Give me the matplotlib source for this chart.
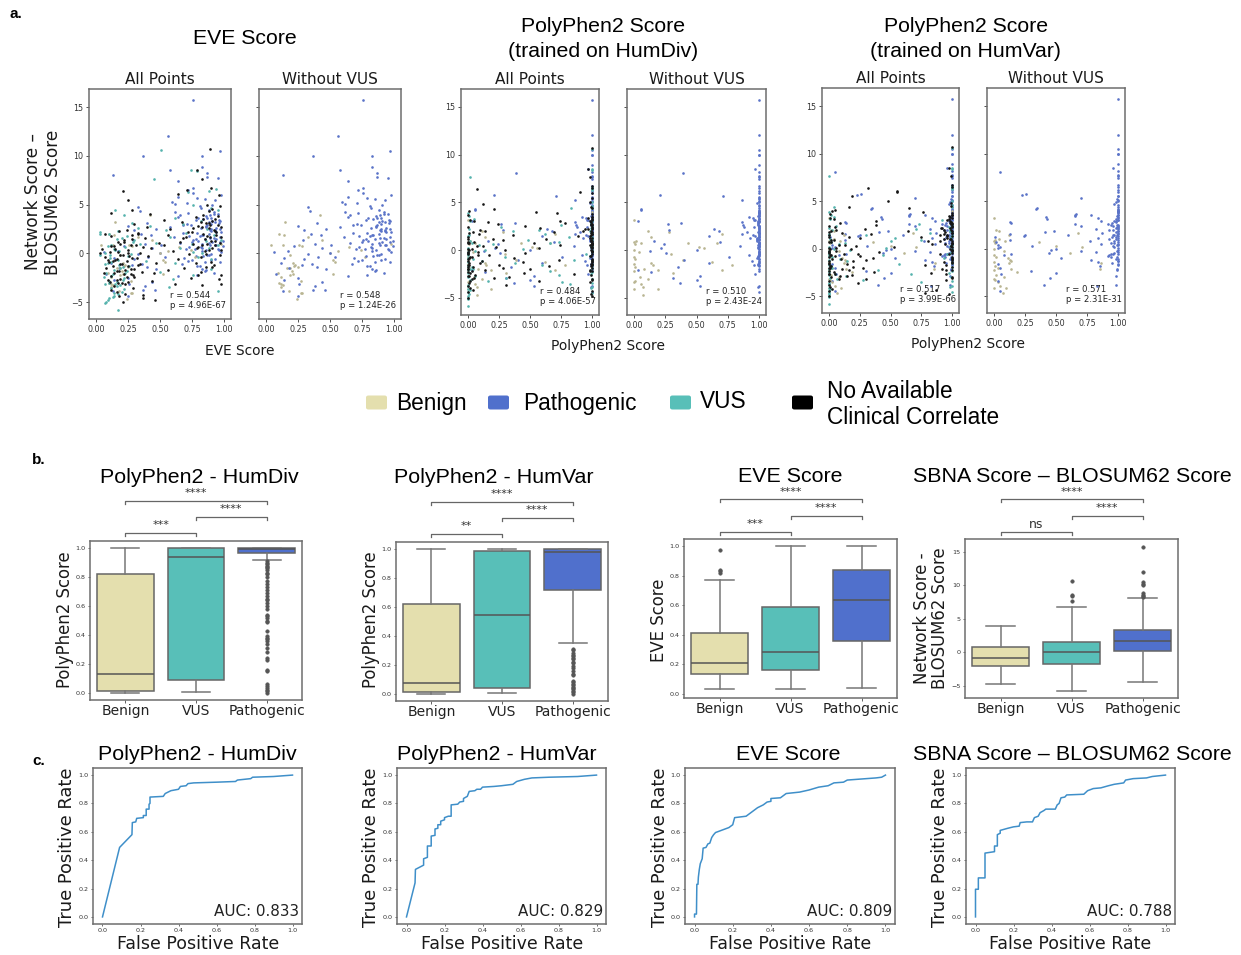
import matplotlib
matplotlib.use('Agg')
import matplotlib.pyplot as plt
from matplotlib.patches import FancyBboxPatch

W, H = 1241, 955

# scatter values, one row of values per line, same order in all columns
path_y = [15.75, 12.0, 10.5, 10.0, 10.0, 8.9, 8.5, 8.2, 8.05, 7.8,
          7.7, 7.4, 6.7, 6.5, 6.0, 5.8, 5.7, 5.5, 5.3, 5.2,
          5.1, 5.0, 4.9, 4.7, 4.4, 4.3, 4.2, 4.1, 4.0, 3.9,
          3.8, 3.7, 3.6, 3.5, 3.4, 3.3, 3.2, 3.1, 3.0, 2.9,
          2.8, 2.7, 2.6, 2.5, 2.4, 2.3, 2.2, 2.1, 2.0, 1.9,
          1.8, 1.7, 1.6, 1.5, 1.4, 1.3, 1.2, 1.1, 1.0, 0.9,
          0.8, 0.7, 0.6, 0.5, 0.4, 0.3, 0.2, 0.1, 0.0, -0.1,
          -0.2, -0.3, -0.4, -0.5, -0.6, -0.7, -0.8, -0.9, -1.0, -1.1,
          -1.2, -1.3, -1.4, -1.5, -1.6, -1.8, -2.0, -2.1, -2.3, -2.5,
          -2.7, -2.9, -3.1, -3.4, -3.8, -3.8, -3.9, -4.4, 2.4, 2.6,
          3.2, 2.9, 2.3, 1.9, 1.5, 1.2, 0.7, 0.3, -0.3, -0.7,
          4.6, 4.0, 3.4, 2.8, 2.1, 1.6, 1.0, 0.4, -1.1, -1.6,
          2.5, 2.0, 1.4, 0.9, 0.2, -0.5, 3.0, 3.6, 5.6, 6.2,
          3.3, 2.7, 2.2, 1.8, 1.3, 0.8, 0.4, -0.2, -0.6, -1.3,
          4.2, 3.6, 3.1, 2.5, 1.9, 1.5, 1.1, 0.6, 0.1, -0.9,
          2.9, 2.4, 1.7, 1.2, 0.5, -0.1, -0.4, -1.7, -2.2, 3.9]
path_eve = [0.76, 0.56, 0.97, 0.83, 0.37, 0.83, 0.58, 0.87, 0.13, 0.87,
            0.95, 0.64, 0.76, 0.72, 0.98, 0.64, 0.79, 0.93, 0.59, 0.71,
            0.62, 0.91, 0.81, 0.33, 0.88, 0.34, 0.62, 0.72, 0.95, 0.66,
            0.86, 0.64, 0.90, 0.84, 0.78, 0.97, 0.93, 0.40, 0.71, 0.87,
            0.25, 0.58, 0.82, 0.47, 0.30, 0.90, 0.98, 0.68, 0.35, 0.43,
            0.73, 0.61, 0.92, 0.85, 0.29, 0.80, 0.97, 0.66, 0.38, 0.94,
            0.51, 0.22, 0.82, 0.44, 0.70, 0.96, 0.17, 0.06, 0.50, 0.33,
            0.88, 0.78, 0.41, 0.14, 0.30, 0.90, 0.72, 0.97, 0.12, 0.36,
            0.28, 0.81, 0.40, 0.18, 0.47, 0.85, 0.92, 0.08, 0.64, 0.25,
            0.14, 0.44, 0.26, 0.38, 0.37, 0.46, 0.13, 0.25, 0.89, 0.94,
            0.88, 0.74, 0.93, 0.83, 0.78, 0.91, 0.99, 0.86, 0.84, 0.75,
            0.82, 0.92, 0.96, 0.86, 0.79, 0.89, 0.83, 0.95, 0.67, 0.83,
            0.97, 0.88, 0.76, 0.93, 0.83, 0.69, 0.90, 0.80, 0.85, 0.76,
            0.91, 0.86, 0.94, 0.81, 0.99, 0.89, 0.77, 0.87, 0.93, 0.79,
            0.92, 0.87, 0.96, 0.90, 0.84, 0.94, 0.88, 0.73, 0.98, 0.85,
            0.68, 0.93, 0.97, 0.75, 0.83, 0.90, 0.54, 0.86, 0.79, 0.89]
path_div = [1.0, 1.0, 1.0, 1.0, 1.0, 1.0, 0.97, 1.0, 0.39, 1.0,
            1.0, 1.0, 1.0, 1.0, 1.0, 0.21, 0.71, 1.0, 1.0, 0.86,
            1.0, 1.0, 0.98, 1.0, 1.0, 0.06, 0.06, 1.0, 1.0, 1.0,
            1.0, 1.0, 0.99, 0.92, 0.95, 1.0, 0.97, 0.03, 1.0, 0.86,
            0.38, 0.27, 0.99, 1.0, 0.88, 1.0, 0.64, 0.28, 0.68, 0.90,
            1.0, 0.86, 0.95, 0.60, 1.0, 0.93, 0.98, 1.0, 0.16, 0.69,
            1.0, 1.0, 0.24, 1.0, 0.85, 0.99, 0.22, 1.0, 0.50, 0.13,
            1.0, 0.26, 1.0, 0.92, 1.0, 0.76, 0.98, 1.0, 0.40, 0.94,
            1.0, 0.60, 0.99, 0.96, 1.0, 0.35, 1.0, 0.03, 0.14, 0.97,
            0.53, 0.31, 0.50, 0.37, 1.0, 0.53, 0.99, 1.0, 0.96, 0.87,
            0.96, 1.0, 1.0, 0.99, 0.97, 1.0, 1.0, 1.0, 1.0, 0.99,
            1.0, 1.0, 1.0, 0.99, 1.0, 1.0, 0.98, 1.0, 1.0, 0.99,
            1.0, 1.0, 1.0, 1.0, 0.99, 1.0, 1.0, 1.0, 1.0, 1.0,
            1.0, 0.99, 1.0, 1.0, 0.98, 1.0, 1.0, 1.0, 0.99, 1.0,
            1.0, 1.0, 0.99, 1.0, 1.0, 1.0, 0.98, 1.0, 1.0, 1.0,
            0.99, 1.0, 1.0, 1.0, 0.99, 1.0, 1.0, 1.0, 1.0, 1.0]
path_var = [1.0, 1.0, 1.0, 1.0, 1.0, 1.0, 0.96, 1.0, 0.05, 1.0,
            1.0, 1.0, 1.0, 1.0, 1.0, 0.26, 0.23, 1.0, 0.70, 0.99,
            1.0, 1.0, 0.98, 0.97, 1.0, 0.35, 0.34, 1.0, 1.0, 1.0,
            1.0, 0.66, 0.65, 0.78, 0.65, 0.42, 0.84, 0.43, 1.0, 0.86,
            0.13, 0.14, 0.65, 0.94, 0.70, 1.0, 0.98, 0.82, 0.93, 0.48,
            0.41, 0.87, 0.13, 0.60, 0.25, 0.24, 0.01, 0.84, 0.93, 0.13,
            0.77, 0.02, 0.94, 0.86, 0.03, 0.31, 0.05, 0.03, 0.50, 0.46,
            0.70, 0.82, 0.44, 0.96, 0.14, 0.08, 0.92, 0.94, 0.54, 0.98,
            0.78, 1.0, 0.84, 0.95, 0.03, 0.85, 0.05, 0.99, 0.30, 0.50,
            0.06, 0.98, 0.45, 0.03, 0.98, 0.40, 0.83, 0.05, 0.96, 0.92,
            1.0, 0.97, 0.99, 1.0, 0.97, 0.98, 1.0, 0.96, 1.0, 0.93,
            1.0, 1.0, 0.99, 0.98, 1.0, 1.0, 0.98, 0.99, 1.0, 1.0,
            1.0, 0.96, 0.99, 1.0, 0.97, 1.0, 1.0, 1.0, 1.0, 1.0,
            1.0, 0.95, 1.0, 0.98, 1.0, 0.97, 1.0, 0.99, 0.94, 1.0,
            1.0, 1.0, 0.98, 0.99, 1.0, 0.96, 1.0, 0.97, 1.0, 0.99,
            0.98, 1.0, 1.0, 0.95, 1.0, 1.0, 0.97, 1.0, 0.99, 1.0]

benign_y = [3.2, 3.95, 2.0, 1.9, 1.7, 1.4, 1.0, 0.9, 0.8, 0.8,
            0.7, 0.6, 0.3, 0.2, 0.0, -0.2, -0.4, -0.7, -0.9, -1.0,
            -1.2, -1.3, -1.4, -1.5, -1.5, -1.8, -2.0, -2.1, -2.1, -2.2,
            -2.4, -2.8, -3.0, -3.2, -3.3, -3.5, -3.9, -4.1, -4.1, -4.7]
benign_eve = [0.15, 0.42, 0.10, 0.14, 0.33, 0.44, 0.98, 0.04, 0.13, 0.26,
              0.28, 0.65, 0.74, 0.56, 0.50, 0.19, 0.77, 0.52, 0.54, 0.21,
              0.23, 0.22, 0.25, 0.16, 0.19, 0.20, 0.09, 0.21, 0.52, 0.19,
              0.12, 0.27, 0.10, 0.12, 0.13, 0.12, 0.18, 0.28, 0.27, 0.24]
benign_div = [0.0, 1.0, 0.11, 0.28, 0.70, 0.14, 0.02, 0.0, 0.43, 0.06,
              0.66, 0.01, 0.52, 0.56, 0.0, 0.04, 0.30, 0.0, 0.01, 0.39,
              0.62, 0.14, 0.0, 0.15, 0.78, 0.01, 0.08, 0.70, 0.19, 0.0,
              0.31, 0.05, 0.11, 0.01, 0.0, 0.06, 0.07, 0.19, 0.0, 0.07]
benign_var = [0.0, 1.0, 0.02, 0.04, 0.68, 0.12, 0.04, 0.01, 0.0, 0.09,
              0.36, 0.01, 0.50, 0.71, 0.0, 0.08, 0.61, 0.0, 0.02, 0.11,
              0.13, 0.14, 0.0, 0.86, 0.12, 0.01, 0.03, 0.85, 0.14, 0.0,
              0.19, 0.02, 0.08, 0.0, 0.01, 0.03, 0.05, 0.10, 0.0, 0.07]

vus_y = [10.6, 8.5, 8.4, 7.6, 6.6, 6.4, 6.3, 5.0, 4.6, 4.4,
         4.4, 3.9, 3.6, 3.3, 3.0, 2.8, 2.6, 2.4, 2.2, 2.1,
         2.0, 2.0, 1.8, 1.7, 1.5, 1.4, 1.3, 1.1, 1.0, 0.9,
         0.8, 0.6, 0.5, 0.4, 0.2, 0.1, 0.0, -0.1, -0.2, -0.4,
         -0.5, -0.7, -0.8, -1.0, -1.1, -1.3, -1.4, -1.6, -1.7, -1.9,
         -2.0, -2.2, -2.3, -2.4, -2.6, -2.7, -2.9, -3.0, -3.2, -3.3,
         -3.5, -3.7, -3.9, -4.1, -4.2, -4.5, -4.8, -5.0, -5.1, -5.85,
         1.6, 1.2, 0.7, 0.3, -0.3, -0.9, -1.5, -2.1, -2.5, -3.1,
         2.5, 1.9, 1.0, 0.0, -0.6, -1.2, -1.8, -2.8, -3.4, -4.4,
         3.1, 2.3, 1.4, 0.5, -0.2, -1.0, -2.0, -3.6, -4.0, -4.6]
vus_eve = [0.51, 0.74, 0.79, 0.45, 0.94, 0.88, 0.72, 0.76, 0.90, 0.15,
           0.95, 0.22, 0.62, 0.82, 0.68, 0.42, 0.33, 0.55, 0.03, 0.70,
           0.03, 0.10, 0.24, 0.58, 0.16, 0.30, 0.86, 0.47, 0.34, 0.95,
           0.12, 0.23, 0.66, 0.14, 0.18, 0.76, 0.07, 0.27, 0.03, 0.80,
           0.11, 0.17, 0.39, 0.62, 0.07, 0.26, 0.21, 0.90, 0.14, 0.50,
           0.08, 0.76, 0.12, 0.06, 0.60, 0.21, 0.16, 0.10, 0.15, 0.19,
           0.57, 0.22, 0.95, 0.14, 0.17, 0.13, 0.09, 0.08, 0.07, 0.17,
           0.20, 0.29, 0.09, 0.15, 0.25, 0.12, 0.19, 0.13, 0.22, 0.07,
           0.87, 0.92, 0.75, 0.83, 0.90, 0.18, 0.24, 0.10, 0.16, 0.14,
           0.28, 0.17, 0.98, 0.88, 0.11, 0.09, 0.23, 0.12, 0.20, 0.10]
vus_div = [1.0, 1.0, 1.0, 0.02, 1.0, 1.0, 1.0, 1.0, 1.0, 0.83,
           1.0, 0.0, 0.01, 0.05, 1.0, 0.99, 0.75, 0.27, 0.01, 0.57,
           0.98, 0.36, 1.0, 0.62, 0.0, 0.81, 1.0, 0.48, 0.02, 0.73,
           0.66, 0.20, 0.09, 1.0, 0.0, 0.44, 0.14, 0.06, 1.0, 0.95,
           0.0, 0.30, 0.0, 0.85, 0.11, 0.38, 1.0, 0.60, 0.0, 1.0,
           0.04, 0.66, 1.0, 0.0, 0.73, 0.06, 0.31, 1.0, 0.16, 0.76,
           0.82, 0.0, 1.0, 0.0, 0.02, 1.0, 0.0, 0.0, 0.0, 0.0,
           0.01, 1.0, 0.03, 0.99, 0.0, 0.04, 1.0, 0.0, 0.99, 0.02,
           1.0, 0.99, 1.0, 1.0, 0.98, 0.0, 0.03, 0.0, 1.0, 0.0,
           0.02, 0.99, 1.0, 1.0, 0.0, 1.0, 0.02, 0.0, 0.99, 0.01]
vus_var = [1.0, 1.0, 1.0, 0.0, 1.0, 1.0, 1.0, 1.0, 1.0, 0.04,
           1.0, 0.0, 0.02, 0.04, 0.92, 0.99, 0.73, 0.06, 0.0, 0.71,
           0.98, 0.03, 1.0, 0.82, 0.0, 0.30, 1.0, 0.54, 0.01, 0.75,
           0.50, 0.13, 0.08, 1.0, 0.0, 0.46, 0.04, 0.17, 1.0, 0.98,
           0.0, 0.44, 0.0, 0.93, 0.09, 0.15, 1.0, 0.57, 0.0, 1.0,
           0.03, 0.40, 1.0, 0.0, 0.67, 0.05, 0.14, 0.99, 0.07, 0.28,
           0.75, 0.0, 1.0, 0.0, 0.01, 1.0, 0.0, 0.0, 0.0, 0.0,
           0.0, 0.99, 0.02, 0.98, 0.0, 0.03, 1.0, 0.0, 0.97, 0.01,
           1.0, 0.98, 0.99, 1.0, 0.96, 0.0, 0.02, 0.0, 1.0, 0.0,
           0.01, 0.97, 1.0, 1.0, 0.0, 1.0, 0.01, 0.0, 0.98, 0.0]

none_y = [10.7, 8.5, 7.6, 6.7, 6.5, 6.35, 6.1, 6.0, 5.5, 5.0,
          4.8, 4.4, 4.3, 4.1, 4.0, 3.9, 3.7, 3.5, 3.4, 3.3,
          3.2, 3.1, 3.0, 2.9, 2.8, 2.7, 2.7, 2.6, 2.5, 2.4,
          2.3, 2.3, 2.2, 2.1, 2.0, 2.0, 1.9, 1.9, 1.8, 1.7,
          1.7, 1.6, 1.5, 1.4, 1.3, 1.2, 1.2, 1.1, 1.0, 0.9,
          0.8, 0.8, 0.7, 0.6, 0.5, 0.4, 0.3, 0.3, 0.2, 0.1,
          0.0, 0.0, -0.1, -0.2, -0.3, -0.4, -0.5, -0.6, -0.7, -0.8,
          -0.9, -1.0, -1.0, -1.1, -1.2, -1.3, -1.4, -1.5, -1.6, -1.7,
          -1.8, -1.9, -2.0, -2.0, -2.1, -2.2, -2.3, -2.4, -2.5, -2.6,
          -2.7, -2.8, -2.9, -3.0, -3.1, -3.2, -3.3, -3.4, -3.6, -3.8,
          -4.0, -4.2, -4.3, -4.4, -4.6, -4.8, -5.0, 1.0, 2.2, 3.2,
          0.5, 1.6, -0.4, -1.5, 2.6, 0.2, -2.2, -1.2, 1.9, -0.1,
          1.2, 0.7, 0.1, -0.3, -0.7, -1.1, -1.6, -2.0, -2.4, -2.9,
          0.9, 0.4, -0.2, -0.8, -1.3, -1.8, -2.2, -2.7, -3.2, -0.5,
          2.0, 1.5, 1.0, 0.6, 0.0, -0.6, -1.1, -1.7, -2.1, -3.0,
          3.5, 2.9, 2.4, 1.8, 1.3, 0.8, 0.3, -0.2, -1.4, -0.9,
          4.5, 3.8, 3.1, 2.7, 2.2, 1.7, 1.1, 0.5, -1.9, -2.6]
none_eve = [0.89, 0.79, 0.83, 0.90, 0.71, 0.21, 0.64, 0.96, 0.25, 0.87,
            0.97, 0.28, 0.88, 0.12, 0.42, 0.84, 0.78, 0.93, 0.53, 0.91,
            0.67, 0.86, 0.30, 0.95, 0.80, 0.40, 0.98, 0.88, 0.58, 0.24,
            0.18, 0.93, 0.75, 0.33, 0.07, 0.84, 0.28, 0.56, 0.12, 0.98,
            0.70, 0.38, 0.85, 0.22, 0.90, 0.66, 0.17, 0.49, 0.76, 0.31,
            0.93, 0.53, 0.14, 0.80, 0.43, 0.05, 0.25, 0.98, 0.60, 0.11,
            0.03, 0.34, 0.86, 0.19, 0.41, 0.07, 0.28, 0.64, 0.15, 0.24,
            0.10, 0.47, 0.78, 0.20, 0.33, 0.13, 0.91, 0.08, 0.27, 0.56,
            0.16, 0.36, 0.06, 0.45, 0.22, 0.98, 0.12, 0.30, 0.74, 0.19,
            0.09, 0.44, 0.25, 0.17, 0.98, 0.62, 0.83, 0.14, 0.29, 0.12,
            0.16, 0.23, 0.37, 0.18, 0.37, 0.46, 0.21, 0.87, 0.72, 0.82,
            0.91, 0.68, 0.82, 0.69, 0.76, 0.85, 0.80, 0.92, 0.94, 0.73,
            0.22, 0.12, 0.17, 0.26, 0.09, 0.19, 0.30, 0.14, 0.24, 0.11,
            0.27, 0.15, 0.21, 0.13, 0.25, 0.18, 0.29, 0.16, 0.23, 0.32,
            0.33, 0.28, 0.19, 0.37, 0.25, 0.16, 0.34, 0.23, 0.27, 0.20,
            0.84, 0.89, 0.92, 0.87, 0.93, 0.83, 0.88, 0.97, 0.86, 0.90,
            0.91, 0.95, 0.88, 0.83, 0.94, 0.89, 0.97, 0.79, 0.82, 0.96]
none_div = [1.0, 0.97, 0.98, 1.0, 1.0, 0.07, 0.90, 1.0, 1.0, 0.98,
            0.12, 1.0, 0.21, 0.01, 0.55, 0.72, 0.0, 1.0, 0.97, 1.0,
            0.02, 0.05, 0.74, 0.16, 0.78, 0.24, 1.0, 0.99, 0.46, 0.0,
            0.58, 1.0, 0.94, 0.10, 0.14, 0.93, 0.04, 0.69, 0.01, 1.0,
            0.09, 0.36, 0.89, 0.0, 1.0, 0.63, 0.20, 0.28, 0.99, 0.05,
            1.0, 0.53, 0.0, 1.0, 0.74, 0.12, 0.23, 1.0, 0.57, 0.0,
            0.01, 0.30, 1.0, 0.08, 0.46, 0.0, 0.17, 0.99, 0.03, 0.37,
            0.0, 0.73, 1.0, 0.11, 0.44, 0.01, 1.0, 0.0, 0.25, 0.65,
            0.04, 0.28, 0.0, 0.50, 0.14, 1.0, 0.0, 0.45, 0.85, 0.06,
            0.01, 0.33, 0.21, 0.03, 1.0, 0.57, 0.98, 0.01, 0.31, 0.0,
            0.02, 0.04, 1.0, 0.0, 0.99, 1.0, 0.0, 1.0, 0.97, 1.0,
            1.0, 0.99, 1.0, 1.0, 1.0, 1.0, 0.98, 1.0, 1.0, 1.0,
            0.0, 0.01, 0.03, 0.0, 0.02, 0.0, 0.01, 0.0, 0.02, 0.05,
            0.0, 0.07, 0.0, 0.01, 0.10, 0.0, 0.03, 0.0, 0.02, 0.08,
            0.99, 0.98, 0.99, 1.0, 0.99, 0.98, 1.0, 0.99, 0.98, 1.0,
            1.0, 0.99, 1.0, 0.99, 0.98, 1.0, 0.99, 1.0, 0.99, 1.0,
            0.99, 1.0, 0.98, 0.99, 1.0, 1.0, 0.99, 0.98, 1.0, 0.99]
none_var = [1.0, 0.97, 0.99, 1.0, 1.0, 0.32, 0.55, 0.55, 0.19, 0.48,
            0.99, 0.16, 0.65, 0.05, 0.03, 0.76, 0.01, 1.0, 0.97, 0.98,
            0.01, 0.04, 0.96, 0.38, 0.99, 0.09, 1.0, 0.99, 0.38, 0.0,
            0.05, 1.0, 0.92, 0.29, 0.06, 0.93, 0.02, 0.64, 0.0, 1.0,
            0.11, 0.34, 0.90, 0.0, 1.0, 0.75, 0.16, 0.25, 0.98, 0.04,
            1.0, 0.80, 0.0, 1.0, 0.84, 0.08, 0.22, 0.99, 0.53, 0.0,
            0.01, 0.18, 1.0, 0.06, 0.41, 0.0, 0.12, 0.97, 0.02, 0.25,
            0.0, 0.36, 1.0, 0.10, 0.30, 0.0, 1.0, 0.0, 0.15, 0.78,
            0.02, 0.20, 0.0, 0.28, 0.11, 1.0, 0.0, 0.37, 0.83, 0.05,
            0.0, 0.19, 0.15, 0.02, 1.0, 0.30, 0.95, 0.0, 0.24, 0.0,
            0.01, 0.03, 0.87, 0.0, 0.78, 0.97, 0.0, 0.99, 0.98, 1.0,
            1.0, 0.93, 1.0, 1.0, 1.0, 1.0, 0.95, 1.0, 1.0, 1.0,
            0.0, 0.02, 0.06, 0.0, 0.01, 0.03, 0.0, 0.01, 0.04, 0.09,
            0.02, 0.13, 0.0, 0.05, 0.20, 0.01, 0.16, 0.0, 0.08, 0.24,
            0.99, 0.96, 0.93, 1.0, 0.98, 0.90, 1.0, 0.95, 0.92, 1.0,
            1.0, 0.98, 1.0, 0.94, 0.96, 0.90, 0.99, 1.0, 0.93, 1.0,
            0.99, 1.0, 0.97, 0.98, 0.91, 1.0, 0.96, 0.94, 1.0, 0.95]

sub_titles = ['All Points', 'Without VUS']
stat_all = ['r = 0.544\np = 4.96E-67', 'r = 0.484\np = 4.06E-57', 'r = 0.517\np = 3.99E-66']
stat_wo = ['r = 0.548\np = 1.24E-26', 'r = 0.510\np = 2.43E-24', 'r = 0.571\np = 2.31E-31']

# box plots: q1, median, q3, whisker low, whisker high per class
classes = ['Benign', 'VUS', 'Pathogenic']
box_div = [[0.012, 0.13, 0.82, 0.0, 1.0], [0.085, 0.94, 1.0, 0.002, 1.0], [0.97, 0.995, 1.0, 0.92, 1.0]]
box_var = [[0.012, 0.077, 0.62, 0.0, 1.0], [0.037, 0.543, 0.985, 0.002, 1.0], [0.72, 0.98, 1.0, 0.35, 1.0]]
box_eve = [[0.135, 0.205, 0.41, 0.03, 0.77], [0.16, 0.285, 0.59, 0.03, 1.0], [0.355, 0.635, 0.84, 0.035, 1.0]]
box_net = [[-2.0, -0.85, 0.75, -4.7, 3.95], [-1.8, 0.0, 1.55, -5.8, 6.7], [0.15, 1.65, 3.35, -4.45, 8.05]]
fliers_div = [[], [], [0.91, 0.9, 0.89, 0.88, 0.87, 0.86, 0.85, 0.83, 0.82, 0.8, 0.77, 0.75, 0.73, 0.71,
                   0.69, 0.67, 0.65, 0.64, 0.62, 0.6, 0.58, 0.54, 0.53, 0.52, 0.5, 0.49, 0.43, 0.39,
                   0.38, 0.37, 0.36, 0.34, 0.31, 0.28, 0.24, 0.23, 0.16, 0.15, 0.06, 0.05, 0.03, 0.02, 0.01, 0.0]]
fliers_var = [[], [], [0.31, 0.3, 0.28, 0.27, 0.26, 0.25, 0.24, 0.22, 0.21, 0.19, 0.18, 0.16, 0.14, 0.13,
                       0.09, 0.08, 0.07, 0.06, 0.05, 0.04, 0.03, 0.02, 0.01, 0.0]]
fliers_eve = [[0.975, 0.84, 0.83, 0.82], [], []]
fliers_net = [[], [10.6, 8.5, 8.4, 7.6], [15.75, 12.0, 10.5, 10.2, 10.0, 8.9, 8.6, 8.4, 8.2]]

# ROC curves
roc1_x = [0, 0.09, 0.155, 0.157, 0.175, 0.18, 0.215, 0.215, 0.23, 0.23, 0.245, 0.245, 0.25, 0.25, 0.32, 0.33,
          0.36, 0.40, 0.41, 0.44, 0.45, 0.48, 0.6, 0.7, 0.71, 0.78, 0.79, 0.9, 1]
roc1_y = [0, 0.49, 0.58, 0.665, 0.67, 0.695, 0.70, 0.715, 0.715, 0.76, 0.76, 0.795, 0.80, 0.845, 0.85, 0.87,
          0.89, 0.90, 0.92, 0.925, 0.94, 0.945, 0.95, 0.955, 0.965, 0.975, 0.985, 0.99, 1]
roc2_x = [0, 0.045, 0.047, 0.09, 0.09, 0.11, 0.11, 0.13, 0.13, 0.15, 0.15, 0.165, 0.165, 0.18, 0.18, 0.2, 0.2,
          0.22, 0.235, 0.235, 0.27, 0.28, 0.3, 0.3, 0.32, 0.33, 0.36, 0.37, 0.39, 0.4, 0.46, 0.5, 0.56, 0.58,
          0.62, 0.66, 0.75, 0.9, 1]
roc2_y = [0, 0.24, 0.335, 0.365, 0.41, 0.42, 0.50, 0.50, 0.57, 0.575, 0.62, 0.625, 0.65, 0.65, 0.675, 0.685, 0.70,
          0.71, 0.71, 0.79, 0.795, 0.81, 0.815, 0.835, 0.85, 0.885, 0.89, 0.90, 0.90, 0.915, 0.92, 0.925, 0.935, 0.955,
          0.97, 0.98, 0.985, 0.99, 1]
roc3_x = [0, 0, 0.01, 0.012, 0.018, 0.02, 0.025, 0.03, 0.04, 0.045, 0.06, 0.07, 0.08, 0.09, 0.1, 0.11, 0.14, 0.18,
          0.2, 0.21, 0.27, 0.3, 0.33, 0.36, 0.38, 0.4, 0.4, 0.45, 0.48, 0.55, 0.6, 0.65, 0.7, 0.73, 0.78, 0.8,
          0.85, 0.95, 0.98, 1]
roc3_y = [0, 0.02, 0.02, 0.23, 0.23, 0.28, 0.335, 0.375, 0.41, 0.485, 0.49, 0.515, 0.52, 0.56, 0.58, 0.595, 0.61, 0.63,
          0.65, 0.70, 0.71, 0.74, 0.77, 0.79, 0.81, 0.815, 0.835, 0.84, 0.87, 0.88, 0.895, 0.915, 0.925, 0.945, 0.95, 0.965,
          0.97, 0.98, 0.985, 1]
roc4_x = [0, 0, 0.015, 0.015, 0.05, 0.05, 0.1, 0.1, 0.115, 0.115, 0.13, 0.13, 0.17, 0.2, 0.23, 0.235, 0.27, 0.3,
          0.31, 0.33, 0.34, 0.36, 0.37, 0.42, 0.43, 0.44, 0.45, 0.47, 0.48, 0.57, 0.59, 0.62, 0.66, 0.7, 0.73,
          0.78, 0.79, 0.83, 0.9, 0.93, 1]
roc4_y = [0, 0.195, 0.195, 0.275, 0.275, 0.45, 0.46, 0.50, 0.50, 0.58, 0.59, 0.61, 0.625, 0.635, 0.64, 0.665, 0.67, 0.67,
          0.70, 0.71, 0.735, 0.75, 0.76, 0.76, 0.79, 0.80, 0.84, 0.845, 0.86, 0.865, 0.89, 0.905, 0.91, 0.925, 0.935,
          0.945, 0.965, 0.975, 0.98, 0.99, 1]

c_benign = '#e4dfae'
c_vus = '#58bfb8'
c_path = '#5070cc'
c_none = '#000000'
c_spine = '#6e6e6e'
sans = 'Liberation Sans'

fig = plt.figure(figsize=(W / 100, H / 100), dpi=100)


def make_ax(x0, y0, x1, y1):
    ax = fig.add_axes([x0 / W, 1 - y1 / H, (x1 - x0) / W, (y1 - y0) / H])
    for s in ax.spines.values():
        s.set_color(c_spine)
        s.set_linewidth(1.1)
    return ax


def txt(x, y, s, size, family='DejaVu Sans', **kw):
    kw.setdefault('ha', 'center')
    kw.setdefault('va', 'center')
    fig.text(x / W, 1 - y / H, s, fontsize=size, family=family, color=kw.pop('color', '#1a1a1a'), **kw)


def scatter_panel(box, ylim, xs, ys, cols, stat, title, show_y):
    ax = make_ax(*box)
    for x, y, c in zip(xs, ys, cols):
        ax.scatter(x, y, s=3.6, color=c, linewidths=0)
    ax.set_xlim(-0.055, 1.055)
    ax.set_ylim(*ylim)
    ax.set_xticks([0, 0.25, 0.5, 0.75, 1.0], ['0.00', '0.25', '0.50', '0.75', '1.00'])
    ax.set_yticks([-5, 0, 5, 10, 15])
    ax.tick_params(labelsize=5.8, length=2, width=0.6, pad=2, colors='#333333', labelleft=show_y)
    ax.text(0.577, -4.85, stat, fontsize=6.1, color='#222222', linespacing=1.15, va='center')
    ax.set_title(title, fontsize=11, pad=3.6, color='#1a1a1a')
    return ax


# row a
sets = [
    (path_eve, benign_eve, vus_eve, none_eve),
    (path_div, benign_div, vus_div, none_div),
    (path_var, benign_var, vus_var, none_var),
]
boxes_all = [(89, 89, 231, 319), (461, 89, 599, 315), (822, 88, 959, 313)]
boxes_wo = [(259, 89, 401, 319), (627, 89, 766, 315), (987, 88, 1125, 313)]
ylims = [(-6.74, 16.85), (-6.78, 16.85), (-6.75, 16.9)]
for i in range(3):
    p, b, v, n = sets[i]
    scatter_panel(boxes_all[i], ylims[i], [p, b, v, n], [path_y, benign_y, vus_y, none_y],
                  ['#5a73c8', '#b9b592', '#55b3ad', '#151515'], stat_all[i], sub_titles[0], True)
    scatter_panel(boxes_wo[i], ylims[i], [b, p], [benign_y, path_y],
                  ['#b9b592', '#5a73c8'], stat_wo[i], sub_titles[1], False)

txt(245, 39, 'EVE Score', 15.3, sans, color='black')
txt(603, 39, 'PolyPhen2 Score\n(trained on HumDiv)', 15.3, sans, color='black', linespacing=1.38)
txt(966, 39, 'PolyPhen2 Score\n(trained on HumVar)', 15.3, sans, color='black', linespacing=1.38)
txt(43, 202, 'Network Score –\nBLOSUM62 Score', 12.2, rotation=90, linespacing=1.15)
txt(240, 351, 'EVE Score', 9.9)
txt(608, 346, 'PolyPhen2 Score', 9.9)
txt(968, 344, 'PolyPhen2 Score', 9.9)
txt(16, 14, 'a.', 11, sans, weight='bold', color='black')
txt(39, 460, 'b.', 11, sans, weight='bold', color='black')
txt(39, 761, 'c.', 11, sans, weight='bold', color='black')

# legend
swatches = [(366, c_benign), (488, c_path), (670, c_vus), (792, c_none)]
for x, c in swatches:
    fig.add_artist(FancyBboxPatch((x / W, 1 - 409.5 / H), 21 / W, 14 / H,
                                  boxstyle='round,pad=0,rounding_size=0.002',
                                  transform=fig.transFigure, facecolor=c, edgecolor='none'))
txt(396, 403, 'Benign', 16.3, sans, ha='left', color='black')
txt(523, 403, 'Pathogenic', 16.3, sans, ha='left', color='black')
txt(700, 402, 'VUS', 16.3, sans, ha='left', color='black')
txt(827, 391, 'No Available', 16.3, sans, ha='left', color='black')
txt(827, 418, 'Clinical Correlate', 16.3, sans, ha='left', color='black')


# row b
def box_panel(rect, stats, fliers, ylim, yticks, ylabels, brackets, marks):
    ax = make_ax(*rect)
    rows = []
    for st, fl, name in zip(stats, fliers, classes):
        rows.append(dict(q1=st[0], med=st[1], q3=st[2], whislo=st[3], whishi=st[4], fliers=fl, label=name))
    parts = ax.bxp(rows, positions=[0, 1, 2], widths=0.8, patch_artist=True,
                   boxprops=dict(edgecolor='#666666', linewidth=1.1),
                   medianprops=dict(color='#555555', linewidth=1.1),
                   whiskerprops=dict(color='#777777', linewidth=1.1),
                   capprops=dict(color='#777777', linewidth=1.1),
                   flierprops=dict(marker='o', markersize=2.6, markerfacecolor='#555555',
                                   markeredgecolor='#555555', markeredgewidth=0.3))
    for patch, c in zip(parts['boxes'], [c_benign, c_vus, c_path]):
        patch.set_facecolor(c)
    ax.set_xlim(-0.5, 2.5)
    ax.set_ylim(*ylim)
    ax.set_yticks(yticks, ylabels)
    ax.tick_params(axis='y', labelsize=4.6, length=1.5, width=0.5, pad=1.5, colors='#333333')
    ax.tick_params(axis='x', labelsize=10, length=2, width=0.5, pad=1.2, colors='#222222')
    y0, y1 = rect[1], rect[3]
    tr = ax.get_xaxis_transform()
    for (a, b, py, ty), m in zip(brackets, marks):
        top = (y1 - py) / (y1 - y0)
        low = (y1 - py - 3) / (y1 - y0)
        ax.plot([a, a, b, b], [low, top, top, low], transform=tr, color='#666666', lw=0.9, clip_on=False)
        ax.text((a + b) / 2, (y1 - ty) / (y1 - y0), m, transform=tr, ha='center', va='center',
                fontsize=9 if m == 'ns' else 8, color='#333333')
    return ax


t01 = [0, 0.2, 0.4, 0.6, 0.8, 1.0]
l01 = ['0.0', '0.2', '0.4', '0.6', '0.8', '1.0']
box_panel((90, 541, 302, 700), box_div, fliers_div, (-0.05, 1.05), t01, l01,
          [(0, 2, 501, 493), (1, 2, 517, 509), (0, 1, 533, 525)], ['****', '****', '***'])
box_panel((396, 542, 608, 701), box_var, fliers_var, (-0.05, 1.05), t01, l01,
          [(0, 2, 502, 494), (1, 2, 518, 510), (0, 1, 534, 526)], ['****', '****', '**'])
box_panel((684, 539, 897, 698), box_eve, fliers_eve, (-0.03, 1.05), t01, l01,
          [(0, 2, 499, 492), (1, 2, 516, 508), (0, 1, 532, 524)], ['****', '****', '***'])
box_panel((965, 539, 1178, 698), box_net, fliers_net, (-6.8, 16.9), [-5, 0, 5, 10, 15], ['−5', '0', '5', '10', '15'],
          [(0, 2, 499, 492), (1, 2, 516, 508), (0, 1, 532, 525)], ['****', '****', 'ns'])

txt(199, 477, 'PolyPhen2 - HumDiv', 15.4, sans, color='black')
txt(494, 477, 'PolyPhen2 - HumVar', 15.4, sans, color='black')
txt(790, 476, 'EVE Score', 15.4, sans, color='black')
txt(1072, 476, 'SBNA Score – BLOSUM62 Score', 15.4, sans, color='black')
txt(65, 620, 'PolyPhen2 Score', 11.9, rotation=90)
txt(371, 620, 'PolyPhen2 Score', 11.9, rotation=90)
txt(659, 620, 'EVE Score', 11.9, rotation=90)
txt(931, 618, 'Network Score -\nBLOSUM62 Score', 11.9, rotation=90, linespacing=1.0)

# row c
roc_boxes = [(93, 768, 302, 924), (397, 768, 606, 924), (685, 768, 895, 924), (966, 768, 1175, 924)]
roc_x = [roc1_x, roc2_x, roc3_x, roc4_x]
roc_y = [roc1_y, roc2_y, roc3_y, roc4_y]
auc_vals = ['AUC: 0.833', 'AUC: 0.829', 'AUC: 0.809', 'AUC: 0.788']
for i in range(4):
    ax = make_ax(*roc_boxes[i])
    ax.plot(roc_x[i], roc_y[i], color='#3f8fc9', lw=1.1)
    ax.set_xlim(-0.05, 1.05)
    ax.set_ylim(-0.05, 1.05)
    ax.set_xticks(t01, l01)
    ax.set_yticks(t01, l01)
    ax.tick_params(labelsize=4.6, length=1.5, width=0.5, pad=1.5, colors='#333333')
    ax.text(0.985, 0.035, auc_vals[i], transform=ax.transAxes, fontsize=10.9, ha='right', va='bottom', color='#222222')

txt(197, 754, 'PolyPhen2 - HumDiv', 15.4, sans, color='black')
txt(497, 754, 'PolyPhen2 - HumVar', 15.4, sans, color='black')
txt(788, 754, 'EVE Score', 15.4, sans, color='black')
txt(1072, 754, 'SBNA Score – BLOSUM62 Score', 15.4, sans, color='black')
for x, x2 in zip([198, 502, 790, 1070], [67, 371, 660, 940]):
    txt(x, 944, 'False Positive Rate', 12.5)
    txt(x2, 847, 'True Positive Rate', 12.9, rotation=90)

plt.savefig('out.png', dpi=100)
